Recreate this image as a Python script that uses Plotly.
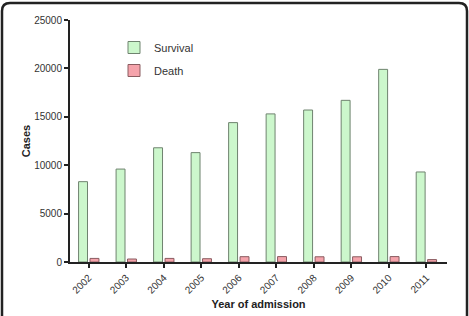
import plotly.graph_objects as go

years = ["2002", "2003", "2004", "2005", "2006", "2007", "2008", "2009", "2010", "2011"]
survival = [8300, 9600, 11800, 11300, 14400, 15300, 15700, 16700, 19900, 9300]
death = [370, 310, 370, 340, 550, 560, 540, 540, 560, 250]
y_ticks = [0, 5000, 10000, 15000, 20000, 25000]
y_tick_labels = ["0", "5000", "10000", "15000", "20000", "25000"]

W, H = 469, 316
L, R, T, B = 70, 22, 20, 54
pw, ph = W - L - R, H - T - B

def px(x):
    return (x - L) / pw

def py(y):
    return (H - B - y) / ph

fig = go.Figure()
fig.add_trace(go.Bar(x=years, y=survival, name="Survival", legendgroup="s",
                     marker=dict(color="#ccf7cc", line=dict(color="#6f836f", width=1))))
fig.add_trace(go.Bar(x=years, y=death, name="Death", legendgroup="d",
                     marker=dict(color="#f5a3ab", line=dict(color="#8a5c60", width=1))))

font = "Liberation Sans, Arial, sans-serif"

# rounded frame
rx, ry = 8 / pw, 8 / ph
x0, x1 = px(2), px(467)
yt, yb = py(3), py(320)
path = (f"M {x0},{yb} L {x0},{yt-ry} Q {x0},{yt} {x0+rx},{yt} "
        f"L {x1-rx},{yt} Q {x1},{yt} {x1},{yt-ry} L {x1},{yb}")

fig.update_layout(
    width=W, height=H,
    margin=dict(l=L, r=R, t=T, b=B, autoexpand=False),
    paper_bgcolor="white", plot_bgcolor="white",
    barmode="group", bargap=0.39, bargroupgap=0.22,
    font=dict(family=font, size=10, color="#333"),
    showlegend=True,
    legend=dict(x=px(114), y=py(33), xanchor="left", yanchor="top",
                traceorder="grouped", tracegroupgap=4,
                font=dict(size=11, color="#333"), bgcolor="rgba(0,0,0,0)"),
    shapes=[dict(type="path", path=path, xref="paper", yref="paper",
                 line=dict(color="#222", width=2.5), layer="above")],
    xaxis=dict(range=[-0.5, 9.55], showline=True, linecolor="#222", linewidth=2,
               ticks="outside", ticklen=4, tickwidth=1.5, tickcolor="#222",
               tickangle=-45, tickfont=dict(size=10, color="#333"),
               showgrid=False, zeroline=False, automargin=False,
               title=dict(text="<b>Year of admission</b>", font=dict(size=11, color="#222"), standoff=6)),
    yaxis=dict(range=[0, 25000], tickvals=y_ticks, ticktext=y_tick_labels,
               showline=True, linecolor="#222", linewidth=2,
               ticks="outside", ticklen=4, tickwidth=1.5, tickcolor="#222",
               tickfont=dict(size=10, color="#333"),
               showgrid=False, zeroline=False, automargin=False,
               title=dict(text="<b>Cases</b>", font=dict(size=11, color="#222"), standoff=1)),
)

fig.write_html("out.html")
